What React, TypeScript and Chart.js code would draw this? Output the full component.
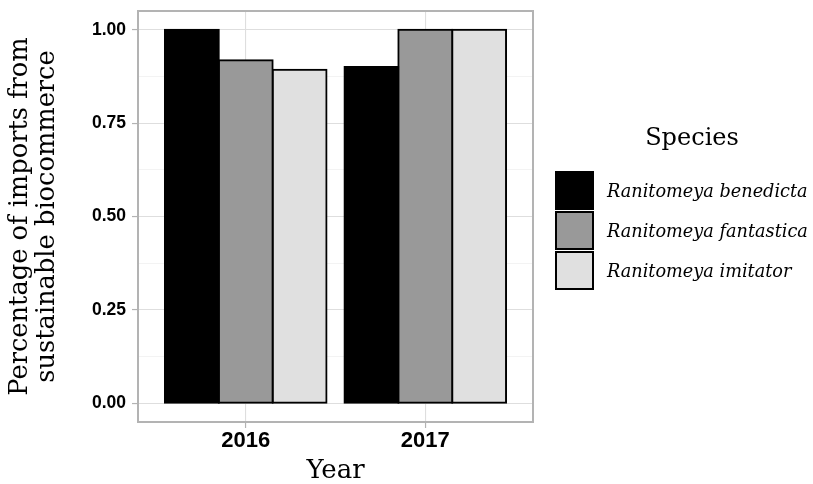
import React, { useEffect, useRef } from "react";
import { Chart, registerables } from "chart.js";

Chart.register(...registerables);

const years = ["2016", "2017"];
const speciesNames = ["Ranitomeya benedicta", "Ranitomeya fantastica", "Ranitomeya imitator"];
const benedicta = [1.0, 0.9];
const fantastica = [0.918, 1.0];
const imitator = [0.893, 1.0];
const fillColors = ["#000000", "#999999", "#E0E0E0"];
const yMajorTicks = [0, 0.25, 0.5, 0.75, 1];
const yMinorTicks = [0.125, 0.375, 0.625, 0.875];
const legendTitle = "Species";
const xTitle = "Year";
const yTitle = ["Percentage of imports from", "sustainable biocommerce"];

const SERIF = '"DejaVu Serif", serif';
const SANS = '"Liberation Sans", Arial, sans-serif';

const isMajor = (v: number) => yMajorTicks.some((m) => Math.abs(m - v) < 1e-9);

const panelBorder = {
  id: "panelBorder",
  afterDatasetsDraw(chart: any) {
    const { ctx, chartArea } = chart;
    ctx.save();
    ctx.strokeStyle = "#B3B3B3";
    ctx.lineWidth = 2;
    ctx.strokeRect(chartArea.left, chartArea.top, chartArea.right - chartArea.left, chartArea.bottom - chartArea.top);
    ctx.restore();
  },
};

const speciesLegend = {
  id: "speciesLegend",
  afterDraw(chart: any) {
    const { ctx, chartArea } = chart;
    const x0 = chartArea.right + 23;
    ctx.save();
    ctx.fillStyle = "#000";
    ctx.font = `24px ${SERIF}`;
    ctx.textAlign = "center";
    ctx.textBaseline = "alphabetic";
    ctx.fillText(legendTitle, x0 + 136, 145);
    chart.data.datasets.forEach((ds: any, i: number) => {
      const y = 172 + i * 40;
      ctx.fillStyle = ds.backgroundColor;
      ctx.fillRect(x0, y, 37, 37);
      ctx.strokeStyle = "#000";
      ctx.lineWidth = 2;
      ctx.strokeRect(x0, y, 37, 37);
      ctx.fillStyle = "#000";
      ctx.font = `italic 17.7px ${SERIF}`;
      ctx.textAlign = "left";
      ctx.textBaseline = "middle";
      ctx.fillText(ds.label, x0 + 51, y + 20);
    });
    ctx.restore();
  },
};

export default function App() {
  const canvasRef = useRef<HTMLCanvasElement>(null);

  useEffect(() => {
    const series = [benedicta, fantastica, imitator];
    const chart = new Chart(canvasRef.current as HTMLCanvasElement, {
      type: "bar",
      data: {
        datasets: series.map((vals, i) => ({
          label: speciesNames[i],
          data: vals.map((v, j) => ({ x: j + 1, y: v })),
          backgroundColor: fillColors[i],
          borderColor: "#000000",
          borderWidth: 2,
          borderSkipped: false,
          inflateAmount: 1,
          categoryPercentage: 0.9,
          barPercentage: 1.0,
        })),
      },
      options: {
        animation: false,
        responsive: true,
        maintainAspectRatio: false,
        devicePixelRatio: 1,
        layout: { padding: { top: 11, right: 280, bottom: 0, left: 0 } },
        plugins: {
          legend: { display: false },
          tooltip: { enabled: false },
        },
        scales: {
          x: {
            type: "linear",
            min: 0.4,
            max: 2.6,
            offset: false,
            afterBuildTicks: (scale: any) => {
              scale.ticks = years.map((_, i) => ({ value: i + 1 }));
            },
            afterFit: (scale: any) => {
              scale.height = 62;
              scale.paddingLeft = 0;
              scale.paddingRight = 0;
            },
            grid: {
              offset: false,
              color: "#DEDEDE",
              lineWidth: 1.1,
              tickColor: "#B3B3B3",
              tickLength: 6,
              tickWidth: 1.2,
            },
            border: { display: false },
            ticks: {
              autoSkip: false,
              maxRotation: 0,
              padding: 0,
              color: "#000",
              font: { family: SANS, weight: "bold", size: 22 },
              callback: (value: any) => years[Math.round(Number(value)) - 1] ?? "",
            },
            title: {
              display: true,
              text: xTitle,
              color: "#000",
              font: { family: SERIF, size: 26, lineHeight: 1 },
              padding: { top: 0, bottom: 0 },
            },
          },
          y: {
            min: -0.05,
            max: 1.05,
            afterBuildTicks: (scale: any) => {
              scale.ticks = [...yMajorTicks, ...yMinorTicks].sort((a, b) => a - b).map((v) => ({ value: v }));
            },
            afterFit: (scale: any) => {
              scale.width = 138;
              scale.paddingTop = 0;
              scale.paddingBottom = 0;
            },
            grid: {
              color: (c: any) => (isMajor(c.tick?.value) ? "#DEDEDE" : "#EEEEEE"),
              lineWidth: (c: any) => (isMajor(c.tick?.value) ? 1.1 : 0.7),
              tickColor: (c: any) => (isMajor(c.tick?.value) ? "#B3B3B3" : "rgba(0,0,0,0)"),
              tickLength: 6,
              tickWidth: 1.2,
            },
            border: { display: false },
            ticks: {
              autoSkip: false,
              padding: 6,
              color: "#000",
              font: { family: SANS, weight: "bold", size: 17.5 },
              callback: (value: any) => (isMajor(Number(value)) ? Number(value).toFixed(2) : ""),
            },
            title: {
              display: true,
              text: yTitle,
              color: "#000",
              font: { family: SERIF, size: 25.7, lineHeight: 1.08 },
              padding: { top: 6, bottom: 0 },
            },
          },
        },
      },
      plugins: [panelBorder, speciesLegend],
    } as any);
    return () => chart.destroy();
  }, []);

  return (
    <div style={{ position: "absolute", left: 0, top: 0, width: 813, height: 484 }}>
      <canvas ref={canvasRef} />
    </div>
  );
}
